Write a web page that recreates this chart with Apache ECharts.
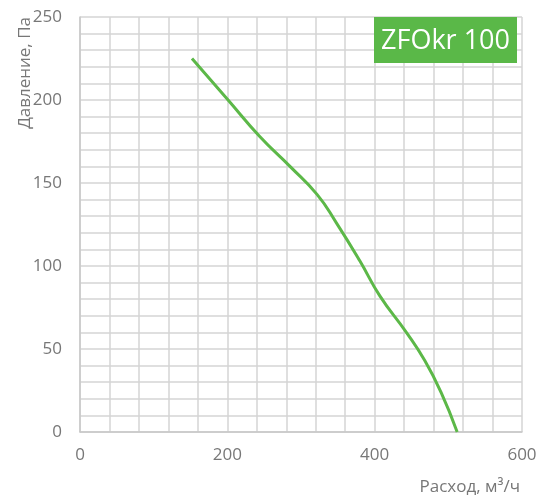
<!DOCTYPE html>
<html><head><meta charset="utf-8">
<script src="https://cdn.jsdelivr.net/npm/echarts@6/dist/echarts.min.js"></script>
<style>html,body{margin:0;padding:0;background:#fff}#c{width:552px;height:501px}</style>
</head><body><div id="c"></div>
<script>
var flowValues = [152, 201, 244, 285, 322, 348, 380, 407, 443, 468, 490, 512];
var pressureValues = [225, 200, 178, 160, 143, 126, 103, 82, 60, 43, 24, 0];
var xTickLabels = [0, 200, 400, 600];
var yTickLabels = [0, 50, 100, 150, 200, 250];
var titleText = 'ZFOkr 100';
var xName = 'Расход, м³/ч';
var yName = 'Давление, Па';

var font = '"Open Sans", sans-serif';
var labelColor = '#777777';
var chart = echarts.init(document.getElementById('c'), null, {renderer:'canvas'});
chart.setOption({
  animation:false,
  backgroundColor:'#fff',
  grid:{left:80, right:30, top:17, bottom:69, containLabel:false},
  xAxis:{type:'value', min:0, max:600, interval:40,
    axisLine:{show:true, lineStyle:{color:'#c8c8c8', width:1.5}},
    axisTick:{show:false},
    splitLine:{show:true, lineStyle:{color:'#d4d4d4', width:1.5}},
    axisLabel:{margin:15, color:labelColor, fontSize:17, fontFamily:font,
      formatter:function(v){return xTickLabels.indexOf(v)>=0 ? String(v) : '';}}
  },
  yAxis:{type:'value', min:0, max:250, interval:10,
    axisLine:{show:true, lineStyle:{color:'#c8c8c8', width:1.5}},
    axisTick:{show:false},
    splitLine:{show:true, lineStyle:{color:'#d4d4d4', width:1.5}},
    axisLabel:{margin:18, color:labelColor, fontSize:17, fontFamily:font,
      formatter:function(v){return yTickLabels.indexOf(v)>=0 ? String(v) : '';}}
  },
  series:[{type:'line', smooth:0.5, symbol:'none',
    lineStyle:{color:'#5cb848', width:3},
    data:flowValues.map(function(x,i){return [x, pressureValues[i]];})}],
  graphic:[
    {type:'rect', z:100, left:374, top:17, shape:{width:143, height:46}, style:{fill:'#5ab848'}},
    {type:'text', z:101, x:445.5, y:41, style:{text:titleText, fill:'#fff', font:'27px "Open Sans", sans-serif', align:'center', verticalAlign:'middle'}},
    {type:'text', z:100, x:520, y:487, style:{text:xName, fill:labelColor, font:'17px "Open Sans", sans-serif', align:'right', verticalAlign:'middle'}},
    {type:'text', z:100, x:25, y:17, rotation:Math.PI/2, style:{text:yName, fill:labelColor, font:'17px "Open Sans", sans-serif', align:'right', verticalAlign:'middle'}}
  ]
});
</script></body></html>
